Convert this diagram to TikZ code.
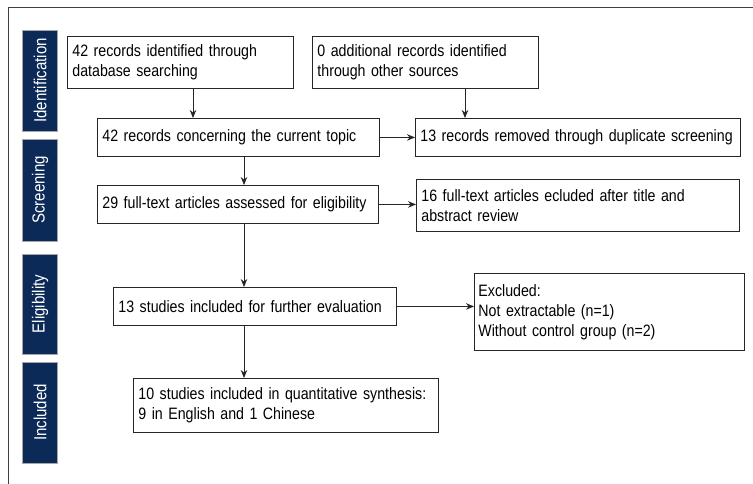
\documentclass[tikz,border=0pt]{standalone}
\usepackage{fontspec}
\setmainfont{Liberation Sans}[FakeStretch=0.86,WordSpace=0.8]
\usepackage{tikz}
\usetikzlibrary{arrows.meta}
\definecolor{barnavy}{RGB}{12,42,88}

\begin{document}
\begin{tikzpicture}[x=1pt,y=-1pt,
		box_style/.style={draw=black!85,line width=0.9pt,anchor=north west,align=left,inner sep=5pt,font=\fontsize{16.5}{20}\selectfont},
		bar_style/.style={draw=black!35,fill=barnavy,line width=0.8pt,text=white,rotate=90,minimum height=35pt,inner sep=0pt,font=\fontsize{17.5}{18}\selectfont},
		edge_style/.style={draw=black!85,line width=0.9pt,-{Stealth[length=8pt,width=6.5pt]}},
		frame_style/.style={draw=black!75,line width=0.8pt}]

		\useasboundingbox (0,0) rectangle (753,484);
		\draw[frame_style] (753,7) -- (8,7) -- (8,484);

		% stage bars
		\node[bar_style,minimum width=101pt] (s1) at (40,80.5)  {Identification};
		\node[bar_style,minimum width=102pt] (s2) at (40,190)  {Screening};
		\node[bar_style,minimum width=100pt] (s3) at (40,304)  {Eligibility};
		\node[bar_style,minimum width=101pt] (s4) at (40,412.5)  {Included};

		% boxes
		\node[box_style,text width=216pt,minimum height=52pt] (n0) at (67,36)  {42 records identified through database searching};
		\node[box_style,text width=216pt,minimum height=52pt] (n1) at (312,36)  {0 additional records identified through other sources};
		\node[box_style,text width=272pt,minimum height=38pt] (n2) at (97,118)  {42 records concerning the current topic};
		\node[box_style,text width=315pt,minimum height=38pt] (n3) at (415,118)  {13 records removed through duplicate screening};
		\node[box_style,text width=271pt,minimum height=38pt] (n4) at (97,185)  {29 full-text articles assessed for eligibility};
		\node[box_style,text width=313pt,minimum height=52pt] (n5) at (416,179)  {16 full-text articles ecluded after title and\\abstract review};
		\node[box_style,text width=273pt,minimum height=38pt] (n6) at (113,287)  {13 studies included for further evaluation};
		\node[box_style,inner sep=4pt,text width=262pt,minimum height=77pt] (n7) at (474,273)  {Excluded:\\Not extractable (n=1)\\Without control group (n=2)};
		\node[box_style,text width=295pt,minimum height=54pt] (n8) at (133,378)  {10 studies included in quantitative synthesis:\\9 in English and 1 Chinese};

		\coordinate (c0) at (193,0);
		\coordinate (c1) at (465,0);
		\coordinate (c2) at (244,0);

		\draw[edge_style]  (n0.south -| c0) -- (n2.north -| c0);
		\draw[edge_style]  (n1.south -| c1) -- (n3.north -| c1);
		\draw[edge_style]  (n2.east) -- (n3.west);
		\draw[edge_style]  (n2.south -| c2) -- (n4.north -| c2);
		\draw[edge_style]  (n4.east) -- (n4.east -| n5.west);
		\draw[edge_style]  (n4.south -| c2) -- (n6.north -| c2);
		\draw[edge_style]  (n6.east) -- (n6.east -| n7.west);
		\draw[edge_style]  (n6.south -| c2) -- (n8.north -| c2);

		\end{tikzpicture}
\end{document}
